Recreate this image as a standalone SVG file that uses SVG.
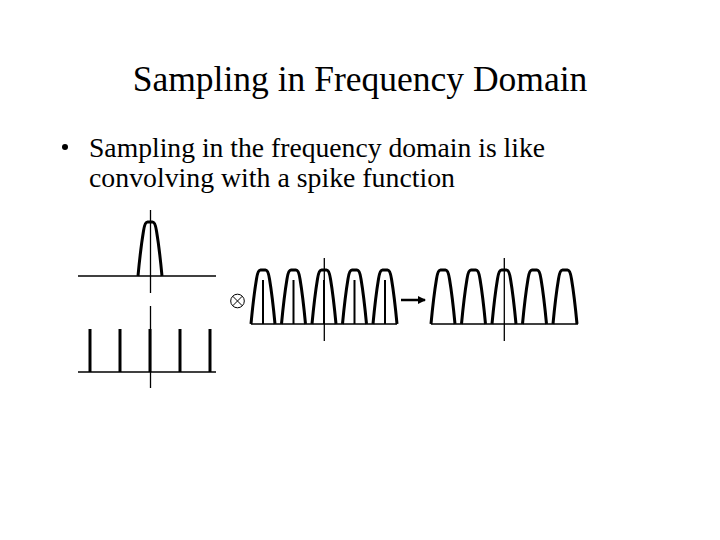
<svg xmlns="http://www.w3.org/2000/svg" xmlns:xlink="http://www.w3.org/1999/xlink" width="720" height="540" viewBox="0 0 720 540">
<style>
.t{font-family:"Liberation Serif","Times New Roman",serif;fill:#000}
.ax{stroke:#000;stroke-width:1.3;fill:none}
.bump{stroke:#000;stroke-width:3;fill:none;stroke-linejoin:round}
.spk{stroke:#000;stroke-width:3}
.spk2{stroke:#000;stroke-width:2}
</style>
<defs>
<path id="b" class="bump" d="M -12 0 C -10.5 -16 -8 -36 -6.5 -45 Q -5.2 -54 -2.5 -54 L 2.5 -54 Q 5.2 -54 6.5 -45 C 8 -36 10.5 -16 12 0"/>
<marker id="ah" markerWidth="8" markerHeight="8" refX="7" refY="4" orient="auto" markerUnits="userSpaceOnUse">
<path d="M0,0 L8,4 L0,8 Z" fill="#000"/>
</marker>
</defs>
<rect width="720" height="540" fill="#fff"/>
<g id="title"><text class="t" x="360" y="91" font-size="35.5" text-anchor="middle">Sampling in Frequency Domain</text></g>
<g id="bullet">
<circle cx="65" cy="147" r="3" fill="#000"/>
<text class="t" x="89" y="157" font-size="27.5" textLength="456" lengthAdjust="spacingAndGlyphs">Sampling in the frequency domain is like</text>
<text class="t" x="89" y="187" font-size="27.5" textLength="366" lengthAdjust="spacingAndGlyphs">convolving with a spike function</text>
</g>
<g id="signal">
<line class="ax" x1="78" y1="276" x2="216" y2="276"/>
<line class="ax" x1="150.5" y1="210" x2="150.5" y2="293"/>
<use xlink:href="#b" href="#b" x="150" y="276"/>
</g>
<g id="spikes">
<line class="ax" x1="78" y1="372" x2="216" y2="372"/>
<line class="ax" x1="150.5" y1="306" x2="150.5" y2="388"/>
<line class="spk" x1="90" y1="329" x2="90" y2="372"/>
<line class="spk" x1="120" y1="329" x2="120" y2="372"/>
<line class="spk" x1="150" y1="329" x2="150" y2="372"/>
<line class="spk" x1="180" y1="329" x2="180" y2="372"/>
<line class="spk" x1="210" y1="329" x2="210" y2="372"/>
</g>
<g id="otimes">
<circle cx="237.5" cy="301" r="6.8" fill="none" stroke="#000" stroke-width="1"/>
<line x1="232.7" y1="296.2" x2="242.3" y2="305.8" stroke="#000" stroke-width="1"/>
<line x1="242.3" y1="296.2" x2="232.7" y2="305.8" stroke="#000" stroke-width="1"/>
</g>
<g id="convolved">
<line class="ax" x1="251" y1="324" x2="397" y2="324"/>
<line class="ax" x1="324.3" y1="258" x2="324.3" y2="341"/>
<line class="spk2" x1="263" y1="280" x2="263" y2="324"/>
<line class="spk2" x1="293.5" y1="280" x2="293.5" y2="324"/>
<line class="spk2" x1="324" y1="280" x2="324" y2="324"/>
<line class="spk2" x1="354.5" y1="280" x2="354.5" y2="324"/>
<line class="spk2" x1="385" y1="280" x2="385" y2="324"/>
<use xlink:href="#b" href="#b" x="263" y="324"/>
<use xlink:href="#b" href="#b" x="293.5" y="324"/>
<use xlink:href="#b" href="#b" x="324" y="324"/>
<use xlink:href="#b" href="#b" x="354.5" y="324"/>
<use xlink:href="#b" href="#b" x="385" y="324"/>
</g>
<g id="result">
<line class="ax" x1="431" y1="324" x2="578" y2="324"/>
<line class="ax" x1="504.3" y1="258" x2="504.3" y2="341"/>
<use xlink:href="#b" href="#b" x="443" y="324"/>
<use xlink:href="#b" href="#b" x="473.5" y="324"/>
<use xlink:href="#b" href="#b" x="504" y="324"/>
<use xlink:href="#b" href="#b" x="534.5" y="324"/>
<use xlink:href="#b" href="#b" x="565" y="324"/>
</g>
<g id="connectors">
<line x1="401" y1="300" x2="425" y2="300" stroke="#000" stroke-width="2.5" marker-end="url(#ah)"/>
</g>
</svg>
